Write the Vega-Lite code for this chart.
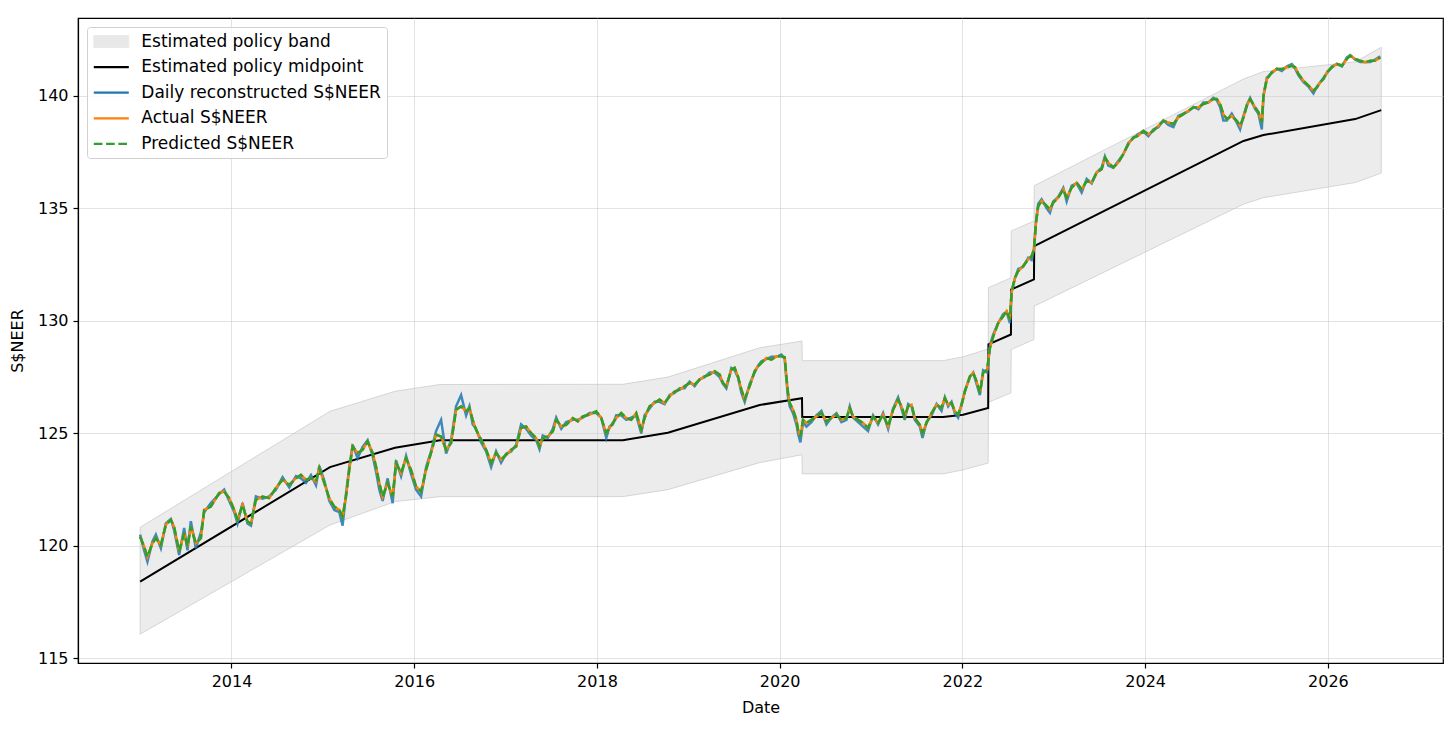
{
  "$schema": "https://vega.github.io/schema/vega-lite/v6.json",
  "width": 1365,
  "height": 645,
  "autosize": {"type": "none"},
  "padding": {"left": 78, "top": 18, "right": 13, "bottom": 66},
  "background": "white",
  "config": {
    "font": "DejaVu Sans",
    "view": {"stroke": "black", "strokeWidth": 1.2},
    "axis": {
      "labelFont": "DejaVu Sans",
      "labelFontSize": 16,
      "labelColor": "black",
      "labelPadding": 5,
      "titleFont": "DejaVu Sans",
      "titleFontSize": 16,
      "titleFontWeight": "normal",
      "titleColor": "black",
      "tickColor": "black",
      "tickSize": 5,
      "tickWidth": 1.2,
      "domainColor": "black",
      "domainWidth": 1.2,
      "gridColor": "#cccccc",
      "gridOpacity": 0.55,
      "gridWidth": 1
    }
  },
  "datasets": {
    "band": [
      {"t": 2013.0, "mid": 118.41, "lo": 116.08, "hi": 120.83},
      {"t": 2015.078, "mid": 123.5, "lo": 120.93, "hi": 125.98},
      {"t": 2015.79, "mid": 124.36, "lo": 121.97, "hi": 126.87},
      {"t": 2016.283, "mid": 124.69, "lo": 122.19, "hi": 127.17},
      {"t": 2018.283, "mid": 124.69, "lo": 122.19, "hi": 127.18},
      {"t": 2018.776, "mid": 125.03, "lo": 122.5, "hi": 127.5},
      {"t": 2019.781, "mid": 126.26, "lo": 123.7, "hi": 128.8},
      {"t": 2020.244, "mid": 126.56, "lo": 124.05, "hi": 129.1},
      {"t": 2020.247, "mid": 125.73, "lo": 123.2, "hi": 128.23},
      {"t": 2021.789, "mid": 125.73, "lo": 123.2, "hi": 128.23},
      {"t": 2022.008, "mid": 125.83, "lo": 123.38, "hi": 128.4},
      {"t": 2022.282, "mid": 126.13, "lo": 123.68, "hi": 128.75},
      {"t": 2022.285, "mid": 128.95, "lo": 126.38, "hi": 131.47},
      {"t": 2022.531, "mid": 129.39, "lo": 126.8, "hi": 131.91},
      {"t": 2022.534, "mid": 131.39, "lo": 128.72, "hi": 133.99},
      {"t": 2022.783, "mid": 131.84, "lo": 129.17, "hi": 134.43},
      {"t": 2022.786, "mid": 133.32, "lo": 130.65, "hi": 136.0},
      {"t": 2025.076, "mid": 137.99, "lo": 135.18, "hi": 140.74},
      {"t": 2025.295, "mid": 138.25, "lo": 135.47, "hi": 141.07},
      {"t": 2026.299, "mid": 138.96, "lo": 136.14, "hi": 141.5},
      {"t": 2026.584, "mid": 139.36, "lo": 136.56, "hi": 142.15}
    ],
    "neer": [
      {"t": 2013.0, "daily": 120.5, "actual": 120.41, "predicted": 120.41},
      {"t": 2013.044, "daily": 119.8, "actual": 119.97, "predicted": 119.97},
      {"t": 2013.08, "daily": 119.3, "actual": 119.52, "predicted": 119.52},
      {"t": 2013.135, "daily": 120.2, "actual": 120.12, "predicted": 120.12},
      {"t": 2013.172, "daily": 120.5, "actual": 120.34, "predicted": 120.34},
      {"t": 2013.227, "daily": 119.9, "actual": 120.04, "predicted": 120.04},
      {"t": 2013.281, "daily": 121.0, "actual": 120.93, "predicted": 120.93},
      {"t": 2013.336, "daily": 121.2, "actual": 121.16, "predicted": 121.16},
      {"t": 2013.372, "daily": 120.7, "actual": 120.86, "predicted": 120.86},
      {"t": 2013.427, "daily": 119.6, "actual": 119.75, "predicted": 119.75},
      {"t": 2013.482, "daily": 120.8, "actual": 120.57, "predicted": 120.57},
      {"t": 2013.518, "daily": 119.8, "actual": 119.97, "predicted": 119.97},
      {"t": 2013.555, "daily": 121.1, "actual": 120.86, "predicted": 120.86},
      {"t": 2013.61, "daily": 119.9, "actual": 120.12, "predicted": 120.12},
      {"t": 2013.665, "daily": 120.6, "actual": 120.34, "predicted": 120.34},
      {"t": 2013.701, "daily": 121.5, "actual": 121.6, "predicted": 121.6},
      {"t": 2013.774, "daily": 121.9, "actual": 121.75, "predicted": 121.75},
      {"t": 2013.865, "daily": 122.3, "actual": 122.35, "predicted": 122.35},
      {"t": 2013.92, "daily": 122.5, "actual": 122.42, "predicted": 122.42},
      {"t": 2013.975, "daily": 122.0, "actual": 122.12, "predicted": 122.12},
      {"t": 2014.03, "daily": 121.5, "actual": 121.6, "predicted": 121.6},
      {"t": 2014.066, "daily": 121.0, "actual": 121.16, "predicted": 121.16},
      {"t": 2014.121, "daily": 121.9, "actual": 121.82, "predicted": 121.82},
      {"t": 2014.175, "daily": 121.0, "actual": 121.08, "predicted": 121.08},
      {"t": 2014.213, "daily": 120.9, "actual": 121.0, "predicted": 121.0},
      {"t": 2014.267, "daily": 122.2, "actual": 122.05, "predicted": 122.05},
      {"t": 2014.34, "daily": 122.1, "actual": 122.19, "predicted": 122.19},
      {"t": 2014.413, "daily": 122.2, "actual": 122.12, "predicted": 122.12},
      {"t": 2014.486, "daily": 122.5, "actual": 122.57, "predicted": 122.57},
      {"t": 2014.559, "daily": 123.05, "actual": 122.94, "predicted": 122.94},
      {"t": 2014.632, "daily": 122.6, "actual": 122.71, "predicted": 122.71},
      {"t": 2014.706, "daily": 123.1, "actual": 123.01, "predicted": 123.01},
      {"t": 2014.76, "daily": 123.0, "actual": 123.16, "predicted": 123.16},
      {"t": 2014.815, "daily": 122.8, "actual": 122.94, "predicted": 122.94},
      {"t": 2014.87, "daily": 123.15, "actual": 123.01, "predicted": 123.01},
      {"t": 2014.925, "daily": 122.7, "actual": 122.86, "predicted": 122.86},
      {"t": 2014.961, "daily": 123.55, "actual": 123.46, "predicted": 123.46},
      {"t": 2015.016, "daily": 122.9, "actual": 122.79, "predicted": 122.79},
      {"t": 2015.07, "daily": 122.0, "actual": 122.12, "predicted": 122.12},
      {"t": 2015.125, "daily": 121.6, "actual": 121.75, "predicted": 121.75},
      {"t": 2015.18, "daily": 121.5, "actual": 121.6, "predicted": 121.6},
      {"t": 2015.216, "daily": 120.9, "actual": 121.3, "predicted": 121.3},
      {"t": 2015.253, "daily": 122.3, "actual": 122.19, "predicted": 122.19},
      {"t": 2015.289, "daily": 123.5, "actual": 123.38, "predicted": 123.38},
      {"t": 2015.326, "daily": 124.5, "actual": 124.42, "predicted": 124.42},
      {"t": 2015.38, "daily": 123.9, "actual": 124.13, "predicted": 124.13},
      {"t": 2015.435, "daily": 124.4, "actual": 124.27, "predicted": 124.27},
      {"t": 2015.49, "daily": 124.7, "actual": 124.64, "predicted": 124.64},
      {"t": 2015.545, "daily": 124.0, "actual": 124.13, "predicted": 124.13},
      {"t": 2015.582, "daily": 123.3, "actual": 123.53, "predicted": 123.53},
      {"t": 2015.618, "daily": 122.5, "actual": 122.79, "predicted": 122.79},
      {"t": 2015.654, "daily": 122.0, "actual": 122.19, "predicted": 122.19},
      {"t": 2015.709, "daily": 123.0, "actual": 122.79, "predicted": 122.79},
      {"t": 2015.764, "daily": 121.9, "actual": 122.19, "predicted": 122.19},
      {"t": 2015.801, "daily": 123.8, "actual": 123.68, "predicted": 123.68},
      {"t": 2015.856, "daily": 123.1, "actual": 123.24, "predicted": 123.24},
      {"t": 2015.911, "daily": 124.0, "actual": 123.9, "predicted": 123.9},
      {"t": 2015.965, "daily": 123.2, "actual": 123.38, "predicted": 123.38},
      {"t": 2016.02, "daily": 122.5, "actual": 122.64, "predicted": 122.64},
      {"t": 2016.075, "daily": 122.2, "actual": 122.42, "predicted": 122.42},
      {"t": 2016.13, "daily": 123.5, "actual": 123.38, "predicted": 123.38},
      {"t": 2016.184, "daily": 124.2, "actual": 124.13, "predicted": 124.13},
      {"t": 2016.239, "daily": 125.1, "actual": 124.94, "predicted": 124.94},
      {"t": 2016.294, "daily": 125.6, "actual": 124.86, "predicted": 124.86},
      {"t": 2016.349, "daily": 124.1, "actual": 124.27, "predicted": 124.27},
      {"t": 2016.404, "daily": 124.7, "actual": 124.57, "predicted": 124.57},
      {"t": 2016.458, "daily": 126.2, "actual": 126.05, "predicted": 126.05},
      {"t": 2016.513, "daily": 126.7, "actual": 126.2, "predicted": 126.2},
      {"t": 2016.568, "daily": 125.8, "actual": 125.98, "predicted": 125.98},
      {"t": 2016.604, "daily": 126.2, "actual": 126.13, "predicted": 126.13},
      {"t": 2016.64, "daily": 125.4, "actual": 125.6, "predicted": 125.6},
      {"t": 2016.677, "daily": 125.2, "actual": 125.16, "predicted": 125.16},
      {"t": 2016.732, "daily": 124.6, "actual": 124.72, "predicted": 124.72},
      {"t": 2016.787, "daily": 124.2, "actual": 124.27, "predicted": 124.27},
      {"t": 2016.842, "daily": 123.5, "actual": 123.68, "predicted": 123.68},
      {"t": 2016.896, "daily": 124.2, "actual": 124.13, "predicted": 124.13},
      {"t": 2016.951, "daily": 123.7, "actual": 123.83, "predicted": 123.83},
      {"t": 2017.006, "daily": 124.1, "actual": 124.05, "predicted": 124.05},
      {"t": 2017.061, "daily": 124.2, "actual": 124.27, "predicted": 124.27},
      {"t": 2017.116, "daily": 124.5, "actual": 124.42, "predicted": 124.42},
      {"t": 2017.17, "daily": 125.4, "actual": 125.24, "predicted": 125.24},
      {"t": 2017.225, "daily": 125.2, "actual": 125.31, "predicted": 125.31},
      {"t": 2017.28, "daily": 124.9, "actual": 125.01, "predicted": 125.01},
      {"t": 2017.335, "daily": 124.7, "actual": 124.79, "predicted": 124.79},
      {"t": 2017.371, "daily": 124.3, "actual": 124.42, "predicted": 124.42},
      {"t": 2017.407, "daily": 124.9, "actual": 124.79, "predicted": 124.79},
      {"t": 2017.462, "daily": 124.8, "actual": 124.86, "predicted": 124.86},
      {"t": 2017.517, "daily": 125.2, "actual": 125.09, "predicted": 125.09},
      {"t": 2017.554, "daily": 125.7, "actual": 125.6, "predicted": 125.6},
      {"t": 2017.609, "daily": 125.2, "actual": 125.31, "predicted": 125.31},
      {"t": 2017.663, "daily": 125.5, "actual": 125.38, "predicted": 125.38},
      {"t": 2017.736, "daily": 125.6, "actual": 125.68, "predicted": 125.68},
      {"t": 2017.79, "daily": 125.6, "actual": 125.53, "predicted": 125.53},
      {"t": 2017.845, "daily": 125.7, "actual": 125.75, "predicted": 125.75},
      {"t": 2017.919, "daily": 125.9, "actual": 125.83, "predicted": 125.83},
      {"t": 2017.992, "daily": 125.9, "actual": 125.98, "predicted": 125.98},
      {"t": 2018.047, "daily": 125.7, "actual": 125.68, "predicted": 125.68},
      {"t": 2018.102, "daily": 124.8, "actual": 125.01, "predicted": 125.01},
      {"t": 2018.138, "daily": 125.3, "actual": 125.24, "predicted": 125.24},
      {"t": 2018.174, "daily": 125.4, "actual": 125.46, "predicted": 125.46},
      {"t": 2018.211, "daily": 125.8, "actual": 125.68, "predicted": 125.68},
      {"t": 2018.266, "daily": 125.8, "actual": 125.9, "predicted": 125.9},
      {"t": 2018.321, "daily": 125.6, "actual": 125.68, "predicted": 125.68},
      {"t": 2018.375, "daily": 125.7, "actual": 125.6, "predicted": 125.6},
      {"t": 2018.43, "daily": 125.8, "actual": 125.9, "predicted": 125.9},
      {"t": 2018.485, "daily": 125.0, "actual": 125.16, "predicted": 125.16},
      {"t": 2018.521, "daily": 125.8, "actual": 125.68, "predicted": 125.68},
      {"t": 2018.576, "daily": 126.1, "actual": 126.2, "predicted": 126.2},
      {"t": 2018.631, "daily": 126.4, "actual": 126.35, "predicted": 126.35},
      {"t": 2018.685, "daily": 126.4, "actual": 126.5, "predicted": 126.5},
      {"t": 2018.74, "daily": 126.3, "actual": 126.35, "predicted": 126.35},
      {"t": 2018.795, "daily": 126.7, "actual": 126.64, "predicted": 126.64},
      {"t": 2018.85, "daily": 126.8, "actual": 126.86, "predicted": 126.86},
      {"t": 2018.905, "daily": 127.0, "actual": 126.94, "predicted": 126.94},
      {"t": 2018.959, "daily": 127.0, "actual": 127.09, "predicted": 127.09},
      {"t": 2019.014, "daily": 127.3, "actual": 127.24, "predicted": 127.24},
      {"t": 2019.069, "daily": 127.1, "actual": 127.16, "predicted": 127.16},
      {"t": 2019.124, "daily": 127.4, "actual": 127.39, "predicted": 127.39},
      {"t": 2019.178, "daily": 127.5, "actual": 127.53, "predicted": 127.53},
      {"t": 2019.233, "daily": 127.7, "actual": 127.61, "predicted": 127.61},
      {"t": 2019.288, "daily": 127.7, "actual": 127.76, "predicted": 127.76},
      {"t": 2019.343, "daily": 127.5, "actual": 127.61, "predicted": 127.61},
      {"t": 2019.379, "daily": 127.2, "actual": 127.24, "predicted": 127.24},
      {"t": 2019.416, "daily": 127.0, "actual": 127.09, "predicted": 127.09},
      {"t": 2019.471, "daily": 127.9, "actual": 127.83, "predicted": 127.83},
      {"t": 2019.507, "daily": 127.8, "actual": 127.91, "predicted": 127.91},
      {"t": 2019.543, "daily": 127.5, "actual": 127.53, "predicted": 127.53},
      {"t": 2019.581, "daily": 126.8, "actual": 126.94, "predicted": 126.94},
      {"t": 2019.617, "daily": 126.4, "actual": 126.5, "predicted": 126.5},
      {"t": 2019.671, "daily": 127.2, "actual": 127.09, "predicted": 127.09},
      {"t": 2019.726, "daily": 127.7, "actual": 127.76, "predicted": 127.76},
      {"t": 2019.762, "daily": 128.0, "actual": 127.98, "predicted": 127.98},
      {"t": 2019.8, "daily": 128.2, "actual": 128.13, "predicted": 128.13},
      {"t": 2019.854, "daily": 128.3, "actual": 128.35, "predicted": 128.35},
      {"t": 2019.909, "daily": 128.4, "actual": 128.28, "predicted": 128.28},
      {"t": 2019.964, "daily": 128.4, "actual": 128.42, "predicted": 128.42},
      {"t": 2020.019, "daily": 128.5, "actual": 128.42, "predicted": 128.42},
      {"t": 2020.055, "daily": 128.3, "actual": 128.38, "predicted": 128.38},
      {"t": 2020.073, "daily": 127.4, "actual": 127.53, "predicted": 127.53},
      {"t": 2020.091, "daily": 126.6, "actual": 126.8, "predicted": 126.8},
      {"t": 2020.11, "daily": 126.2, "actual": 126.35, "predicted": 126.35},
      {"t": 2020.146, "daily": 125.9, "actual": 126.05, "predicted": 126.05},
      {"t": 2020.183, "daily": 125.4, "actual": 125.6, "predicted": 125.6},
      {"t": 2020.201, "daily": 125.0, "actual": 125.16, "predicted": 125.16},
      {"t": 2020.227, "daily": 124.6, "actual": 124.86, "predicted": 124.86},
      {"t": 2020.255, "daily": 125.5, "actual": 125.6, "predicted": 125.6},
      {"t": 2020.293, "daily": 125.3, "actual": 125.46, "predicted": 125.46},
      {"t": 2020.347, "daily": 125.5, "actual": 125.6, "predicted": 125.6},
      {"t": 2020.402, "daily": 125.8, "actual": 125.75, "predicted": 125.75},
      {"t": 2020.457, "daily": 126.0, "actual": 125.9, "predicted": 125.9},
      {"t": 2020.512, "daily": 125.4, "actual": 125.53, "predicted": 125.53},
      {"t": 2020.566, "daily": 125.7, "actual": 125.68, "predicted": 125.68},
      {"t": 2020.621, "daily": 125.9, "actual": 125.83, "predicted": 125.83},
      {"t": 2020.676, "daily": 125.5, "actual": 125.6, "predicted": 125.6},
      {"t": 2020.731, "daily": 125.6, "actual": 125.68, "predicted": 125.68},
      {"t": 2020.767, "daily": 126.2, "actual": 126.13, "predicted": 126.13},
      {"t": 2020.803, "daily": 125.7, "actual": 125.75, "predicted": 125.75},
      {"t": 2020.858, "daily": 125.5, "actual": 125.6, "predicted": 125.6},
      {"t": 2020.913, "daily": 125.3, "actual": 125.46, "predicted": 125.46},
      {"t": 2020.967, "daily": 125.1, "actual": 125.24, "predicted": 125.24},
      {"t": 2021.022, "daily": 125.8, "actual": 125.75, "predicted": 125.75},
      {"t": 2021.077, "daily": 125.4, "actual": 125.46, "predicted": 125.46},
      {"t": 2021.132, "daily": 125.9, "actual": 125.83, "predicted": 125.83},
      {"t": 2021.187, "daily": 125.2, "actual": 125.31, "predicted": 125.31},
      {"t": 2021.241, "daily": 126.1, "actual": 126.05, "predicted": 126.05},
      {"t": 2021.296, "daily": 126.6, "actual": 126.5, "predicted": 126.5},
      {"t": 2021.333, "daily": 126.1, "actual": 126.2, "predicted": 126.2},
      {"t": 2021.369, "daily": 125.6, "actual": 125.75, "predicted": 125.75},
      {"t": 2021.406, "daily": 126.3, "actual": 126.2, "predicted": 126.2},
      {"t": 2021.443, "daily": 126.2, "actual": 126.27, "predicted": 126.27},
      {"t": 2021.479, "daily": 125.6, "actual": 125.68, "predicted": 125.68},
      {"t": 2021.534, "daily": 125.3, "actual": 125.38, "predicted": 125.38},
      {"t": 2021.563, "daily": 124.8, "actual": 125.01, "predicted": 125.01},
      {"t": 2021.607, "daily": 125.5, "actual": 125.46, "predicted": 125.46},
      {"t": 2021.662, "daily": 125.8, "actual": 125.9, "predicted": 125.9},
      {"t": 2021.717, "daily": 126.3, "actual": 126.27, "predicted": 126.27},
      {"t": 2021.771, "daily": 126.0, "actual": 126.13, "predicted": 126.13},
      {"t": 2021.808, "daily": 126.6, "actual": 126.57, "predicted": 126.57},
      {"t": 2021.844, "daily": 126.2, "actual": 126.27, "predicted": 126.27},
      {"t": 2021.881, "daily": 126.4, "actual": 126.35, "predicted": 126.35},
      {"t": 2021.917, "daily": 125.9, "actual": 125.98, "predicted": 125.98},
      {"t": 2021.953, "daily": 125.7, "actual": 125.83, "predicted": 125.83},
      {"t": 2021.991, "daily": 126.3, "actual": 126.27, "predicted": 126.27},
      {"t": 2022.027, "daily": 126.9, "actual": 126.86, "predicted": 126.86},
      {"t": 2022.082, "daily": 127.5, "actual": 127.53, "predicted": 127.53},
      {"t": 2022.118, "daily": 127.7, "actual": 127.69, "predicted": 127.69},
      {"t": 2022.155, "daily": 127.2, "actual": 127.31, "predicted": 127.31},
      {"t": 2022.191, "daily": 126.7, "actual": 126.8, "predicted": 126.8},
      {"t": 2022.227, "daily": 127.8, "actual": 127.69, "predicted": 127.69},
      {"t": 2022.271, "daily": 127.7, "actual": 127.83, "predicted": 127.83},
      {"t": 2022.301, "daily": 128.9, "actual": 128.8, "predicted": 128.8},
      {"t": 2022.337, "daily": 129.4, "actual": 129.3, "predicted": 129.3},
      {"t": 2022.392, "daily": 129.9, "actual": 129.91, "predicted": 129.91},
      {"t": 2022.446, "daily": 130.3, "actual": 130.2, "predicted": 130.2},
      {"t": 2022.484, "daily": 130.4, "actual": 130.43, "predicted": 130.43},
      {"t": 2022.52, "daily": 129.9, "actual": 130.06, "predicted": 130.06},
      {"t": 2022.538, "daily": 131.3, "actual": 131.25, "predicted": 131.25},
      {"t": 2022.575, "daily": 131.9, "actual": 131.91, "predicted": 131.91},
      {"t": 2022.611, "daily": 132.3, "actual": 132.21, "predicted": 132.21},
      {"t": 2022.665, "daily": 132.4, "actual": 132.43, "predicted": 132.43},
      {"t": 2022.72, "daily": 132.8, "actual": 132.73, "predicted": 132.73},
      {"t": 2022.757, "daily": 132.7, "actual": 132.87, "predicted": 132.87},
      {"t": 2022.783, "daily": 133.2, "actual": 133.17, "predicted": 133.17},
      {"t": 2022.805, "daily": 134.4, "actual": 134.36, "predicted": 134.36},
      {"t": 2022.83, "daily": 135.2, "actual": 135.1, "predicted": 135.1},
      {"t": 2022.867, "daily": 135.4, "actual": 135.32, "predicted": 135.32},
      {"t": 2022.922, "daily": 135.0, "actual": 135.1, "predicted": 135.1},
      {"t": 2022.958, "daily": 134.8, "actual": 134.95, "predicted": 134.95},
      {"t": 2022.994, "daily": 135.3, "actual": 135.25, "predicted": 135.25},
      {"t": 2023.049, "daily": 135.5, "actual": 135.47, "predicted": 135.47},
      {"t": 2023.104, "daily": 135.9, "actual": 135.84, "predicted": 135.84},
      {"t": 2023.141, "daily": 135.3, "actual": 135.47, "predicted": 135.47},
      {"t": 2023.196, "daily": 136.0, "actual": 135.92, "predicted": 135.92},
      {"t": 2023.25, "daily": 136.1, "actual": 136.14, "predicted": 136.14},
      {"t": 2023.305, "daily": 135.7, "actual": 135.84, "predicted": 135.84},
      {"t": 2023.36, "daily": 136.3, "actual": 136.21, "predicted": 136.21},
      {"t": 2023.415, "daily": 136.1, "actual": 136.14, "predicted": 136.14},
      {"t": 2023.47, "daily": 136.6, "actual": 136.59, "predicted": 136.59},
      {"t": 2023.524, "daily": 136.8, "actual": 136.73, "predicted": 136.73},
      {"t": 2023.56, "daily": 137.3, "actual": 137.25, "predicted": 137.25},
      {"t": 2023.597, "daily": 136.9, "actual": 137.03, "predicted": 137.03},
      {"t": 2023.651, "daily": 136.8, "actual": 136.81, "predicted": 136.81},
      {"t": 2023.706, "daily": 137.1, "actual": 137.03, "predicted": 137.03},
      {"t": 2023.761, "daily": 137.4, "actual": 137.4, "predicted": 137.4},
      {"t": 2023.816, "daily": 137.9, "actual": 137.85, "predicted": 137.85},
      {"t": 2023.87, "daily": 138.1, "actual": 138.14, "predicted": 138.14},
      {"t": 2023.925, "daily": 138.3, "actual": 138.22, "predicted": 138.22},
      {"t": 2023.98, "daily": 138.4, "actual": 138.44, "predicted": 138.44},
      {"t": 2024.035, "daily": 138.2, "actual": 138.29, "predicted": 138.29},
      {"t": 2024.09, "daily": 138.5, "actual": 138.44, "predicted": 138.44},
      {"t": 2024.144, "daily": 138.6, "actual": 138.66, "predicted": 138.66},
      {"t": 2024.199, "daily": 138.9, "actual": 138.88, "predicted": 138.88},
      {"t": 2024.254, "daily": 138.7, "actual": 138.81, "predicted": 138.81},
      {"t": 2024.309, "daily": 138.6, "actual": 138.74, "predicted": 138.74},
      {"t": 2024.363, "daily": 139.1, "actual": 139.03, "predicted": 139.03},
      {"t": 2024.418, "daily": 139.2, "actual": 139.18, "predicted": 139.18},
      {"t": 2024.473, "daily": 139.3, "actual": 139.33, "predicted": 139.33},
      {"t": 2024.528, "daily": 139.5, "actual": 139.48, "predicted": 139.48},
      {"t": 2024.583, "daily": 139.4, "actual": 139.48, "predicted": 139.48},
      {"t": 2024.637, "daily": 139.7, "actual": 139.63, "predicted": 139.63},
      {"t": 2024.692, "daily": 139.7, "actual": 139.7, "predicted": 139.7},
      {"t": 2024.747, "daily": 139.9, "actual": 139.85, "predicted": 139.85},
      {"t": 2024.784, "daily": 139.8, "actual": 139.85, "predicted": 139.85},
      {"t": 2024.82, "daily": 139.5, "actual": 139.63, "predicted": 139.63},
      {"t": 2024.856, "daily": 138.9, "actual": 139.18, "predicted": 139.18},
      {"t": 2024.894, "daily": 138.9, "actual": 138.96, "predicted": 138.96},
      {"t": 2024.948, "daily": 139.2, "actual": 139.1, "predicted": 139.1},
      {"t": 2025.003, "daily": 138.8, "actual": 138.88, "predicted": 138.88},
      {"t": 2025.039, "daily": 138.5, "actual": 138.66, "predicted": 138.66},
      {"t": 2025.076, "daily": 139.1, "actual": 139.03, "predicted": 139.03},
      {"t": 2025.113, "daily": 139.6, "actual": 139.55, "predicted": 139.55},
      {"t": 2025.149, "daily": 139.9, "actual": 139.85, "predicted": 139.85},
      {"t": 2025.204, "daily": 139.4, "actual": 139.48, "predicted": 139.48},
      {"t": 2025.24, "daily": 139.2, "actual": 139.26, "predicted": 139.26},
      {"t": 2025.277, "daily": 138.5, "actual": 138.81, "predicted": 138.81},
      {"t": 2025.295, "daily": 140.0, "actual": 140.0, "predicted": 140.0},
      {"t": 2025.332, "daily": 140.8, "actual": 140.74, "predicted": 140.74},
      {"t": 2025.387, "daily": 141.0, "actual": 141.04, "predicted": 141.04},
      {"t": 2025.441, "daily": 141.2, "actual": 141.18, "predicted": 141.18},
      {"t": 2025.496, "daily": 141.1, "actual": 141.18, "predicted": 141.18},
      {"t": 2025.551, "daily": 141.3, "actual": 141.26, "predicted": 141.26},
      {"t": 2025.606, "daily": 141.4, "actual": 141.33, "predicted": 141.33},
      {"t": 2025.642, "daily": 141.2, "actual": 141.26, "predicted": 141.26},
      {"t": 2025.678, "daily": 140.9, "actual": 140.96, "predicted": 140.96},
      {"t": 2025.733, "daily": 140.6, "actual": 140.66, "predicted": 140.66},
      {"t": 2025.788, "daily": 140.4, "actual": 140.44, "predicted": 140.44},
      {"t": 2025.842, "daily": 140.1, "actual": 140.22, "predicted": 140.22},
      {"t": 2025.88, "daily": 140.4, "actual": 140.37, "predicted": 140.37},
      {"t": 2025.916, "daily": 140.6, "actual": 140.59, "predicted": 140.59},
      {"t": 2025.952, "daily": 140.8, "actual": 140.74, "predicted": 140.74},
      {"t": 2025.989, "daily": 141.0, "actual": 141.04, "predicted": 141.04},
      {"t": 2026.044, "daily": 141.3, "actual": 141.26, "predicted": 141.26},
      {"t": 2026.099, "daily": 141.4, "actual": 141.41, "predicted": 141.41},
      {"t": 2026.154, "daily": 141.3, "actual": 141.33, "predicted": 141.33},
      {"t": 2026.208, "daily": 141.7, "actual": 141.63, "predicted": 141.63},
      {"t": 2026.244, "daily": 141.8, "actual": 141.78, "predicted": 141.78},
      {"t": 2026.299, "daily": 141.6, "actual": 141.63, "predicted": 141.63},
      {"t": 2026.354, "daily": 141.5, "actual": 141.55, "predicted": 141.55},
      {"t": 2026.409, "daily": 141.5, "actual": 141.48, "predicted": 141.48},
      {"t": 2026.464, "daily": 141.5, "actual": 141.55, "predicted": 141.55},
      {"t": 2026.518, "daily": 141.6, "actual": 141.55, "predicted": 141.55},
      {"t": 2026.573, "daily": 141.75, "actual": 141.7, "predicted": 141.7}
    ]
  },
  "encoding": {
    "x": {
      "field": "t",
      "type": "quantitative",
      "scale": {"domain": [2012.32, 2027.26], "nice": false, "zero": false},
      "axis": {
        "values": [2014, 2016, 2018, 2020, 2022, 2024, 2026],
        "format": "d",
        "title": "Date",
        "titlePadding": 10
      }
    }
  },
  "layer": [
    {
      "data": {"name": "band"},
      "mark": {"type": "area", "fillOpacity": 0.35, "stroke": "#c0c0c0", "strokeOpacity": 0.6, "strokeWidth": 1},
      "encoding": {
        "y": {
          "field": "lo",
          "type": "quantitative",
          "scale": {"domain": [114.8, 143.45], "nice": false, "zero": false},
          "axis": {"values": [115, 120, 125, 130, 135, 140], "title": "S$NEER", "titlePadding": 12}
        },
        "y2": {"field": "hi"},
        "color": {
          "datum": "Estimated policy band",
          "type": "nominal",
          "scale": {
            "domain": ["Estimated policy band", "Estimated policy midpoint", "Daily reconstructed S$NEER", "Actual S$NEER", "Predicted S$NEER"],
            "range": ["#c8c8c8", "#000000", "#1f77b4", "#ff7f0e", "#2ca02c"]
          },
          "legend": {
            "title": null,
            "orient": "top-left",
            "offset": 9,
            "padding": 6,
            "rowPadding": 7.6,
            "symbolSize": 100,
            "symbolType": {"expr": "datum.value === 'Estimated policy band' ? 'M-3.5,-1.2L3.5,-1.2L3.5,1.2L-3.5,1.2Z' : 'M-3.5,0L3.5,0'"},
            "symbolStrokeWidth": {"expr": "datum.value === 'Estimated policy band' ? 1 : 2.3"},
            "symbolDash": {"expr": "datum.value === 'Predicted S$NEER' ? [8.6, 3.7] : [1, 0]"},
            "symbolOpacity": {"expr": "datum.value === 'Estimated policy band' ? 0.4 : 1"},
            "symbolOffset": 9.8,
            "labelOffset": 21.5,
            "labelFont": "DejaVu Sans",
            "labelFontSize": 17,
            "labelColor": "black",
            "labelLimit": 400,
            "fillColor": "rgba(255,255,255,0.8)",
            "strokeColor": "#d0d0d0",
            "cornerRadius": 3
          }
        }
      }
    },
    {
      "data": {"name": "band"},
      "mark": {"type": "line", "strokeWidth": 2},
      "encoding": {
        "y": {"field": "mid", "type": "quantitative", "title": "S$NEER"},
        "color": {"datum": "Estimated policy midpoint", "type": "nominal"}
      }
    },
    {
      "data": {"name": "neer"},
      "mark": {"type": "line", "strokeWidth": 2.5, "opacity": 0.85},
      "encoding": {
        "y": {"field": "daily", "type": "quantitative", "title": "S$NEER"},
        "color": {"datum": "Daily reconstructed S$NEER", "type": "nominal"}
      }
    },
    {
      "data": {"name": "neer"},
      "mark": {"type": "line", "strokeWidth": 2.5},
      "encoding": {
        "y": {"field": "actual", "type": "quantitative", "title": "S$NEER"},
        "color": {"datum": "Actual S$NEER", "type": "nominal"}
      }
    },
    {
      "data": {"name": "neer"},
      "mark": {"type": "line", "strokeWidth": 2.5, "strokeDash": [8.6, 3.7]},
      "encoding": {
        "y": {"field": "predicted", "type": "quantitative", "title": "S$NEER"},
        "color": {"datum": "Predicted S$NEER", "type": "nominal"}
      }
    }
  ]
}
